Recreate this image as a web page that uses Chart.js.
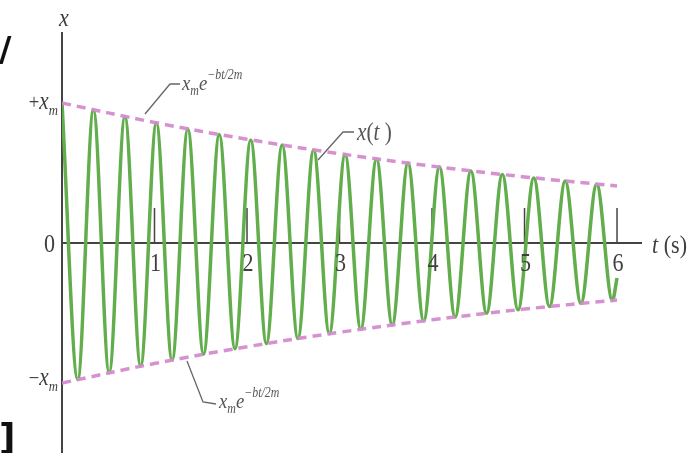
<!DOCTYPE html>
<html>
<head>
<meta charset="utf-8">
<script src="https://cdn.jsdelivr.net/npm/chart.js@4.4.1/dist/chart.umd.min.js"></script>
<style>
  html, body { margin: 0; padding: 0; background: #fff; }
  #wrap { width: 700px; height: 453px; }
</style>
</head>
<body>
<div id="wrap"><canvas id="dampedChart" width="700" height="453"></canvas></div>
<script>
// crests and troughs of x(t), in units of x_m (t in s)
const swingTimes = [0, 0.17, 0.34, 0.51, 0.68, 0.85, 1.02, 1.19, 1.36, 1.53, 1.70, 1.87,
                    2.04, 2.21, 2.38, 2.55, 2.72, 2.89, 3.06, 3.23, 3.40, 3.57, 3.74, 3.91,
                    4.08, 4.25, 4.42, 4.59, 4.76, 4.93, 5.10, 5.27, 5.44, 5.61, 5.78, 5.95, 6.00];
const swingValues = [1.000, -0.975, 0.950, -0.926, 0.903, -0.880, 0.858, -0.837, 0.815, -0.795, 0.775, -0.755,
                     0.736, -0.718, 0.700, -0.682, 0.665, -0.648, 0.632, -0.616, 0.600, -0.585, 0.571, -0.556,
                     0.542, -0.529, 0.515, -0.502, 0.490, -0.477, 0.465, -0.454, 0.442, -0.431, 0.420, -0.410, -0.250];

// envelope  ±x_m e^{-bt/2m}
const envelopeTimes = [0, 1, 2, 3, 4, 5, 6];
const envelopeUpper = [1.000, 0.861, 0.741, 0.638, 0.549, 0.472, 0.407];
const envelopeLower = [-1.000, -0.861, -0.741, -0.638, -0.549, -0.472, -0.407];

// time axis ticks
const timeTicks = [1, 2, 3, 4, 5, 6];
const tickLabels = ['1', '2', '3', '4', '5', '6'];

const GREEN = '#62ad4c';
const PINK = 'rgba(212, 140, 206, 0.95)';
const AXIS = '#444';
const INK = '#3f3f3f';
const SQUASH = 0.85;

const toPoints = (xs, ys) => xs.map((x, i) => ({ x: x, y: ys[i] }));

// draws a run of serif pieces: [text, size, dy, italic]
function mathText(ctx, x, y, parts, align) {
    let total = 0;
    parts.forEach(([s, size, dy, it]) => {
        ctx.font = `${it ? 'italic ' : ''}${size}px "Liberation Serif"`;
        total += ctx.measureText(s).width * SQUASH;
    });
    let cx = align === 'right' ? x - total : align === 'center' ? x - total / 2 : x;
    parts.forEach(([s, size, dy, it]) => {
        ctx.font = `${it ? 'italic ' : ''}${size}px "Liberation Serif"`;
        ctx.save();
        ctx.translate(cx, y + dy);
        ctx.scale(SQUASH, 1);
        ctx.fillText(s, 0, 0);
        ctx.restore();
        cx += ctx.measureText(s).width * SQUASH;
    });
}

function leader(ctx, pts) {
    ctx.beginPath();
    ctx.moveTo(pts[0][0], pts[0][1]);
    pts.slice(1).forEach(p => ctx.lineTo(p[0], p[1]));
    ctx.stroke();
}

const axesPlugin = {
    id: 'axesPlugin',
    beforeDatasetsDraw(chart) {
        const { ctx, scales: { x, y } } = chart;
        const x0 = x.getPixelForValue(0);
        const y0 = y.getPixelForValue(0);
        ctx.save();
        ctx.strokeStyle = AXIS;
        ctx.lineWidth = 2;
        ctx.beginPath();
        ctx.moveTo(x0, chart.chartArea.top);
        ctx.lineTo(x0, chart.height);
        ctx.moveTo(x0, y0);
        ctx.lineTo(chart.chartArea.right, y0);
        ctx.stroke();

        // tick marks rise above the time axis
        ctx.lineWidth = 1.5;
        timeTicks.forEach(t => {
            const px = x.getPixelForValue(t);
            ctx.beginPath();
            ctx.moveTo(px, y0 - 35);
            ctx.lineTo(px, y0);
            ctx.stroke();
        });
        ctx.restore();
    },
    afterDatasetsDraw(chart) {
        const { ctx, scales: { x, y } } = chart;
        const x0 = x.getPixelForValue(0);
        const y0 = y.getPixelForValue(0);
        ctx.save();
        ctx.fillStyle = INK;
        ctx.textBaseline = 'alphabetic';

        timeTicks.forEach((t, i) => {
            mathText(ctx, x.getPixelForValue(t) + 1, y0 + 28, [[tickLabels[i], 26, 0, false]], 'center');
        });
        mathText(ctx, x0 - 7, y0 + 9, [['0', 26, 0, false]], 'right');
        mathText(ctx, x0 - 4, y.getPixelForValue(1) + 6, [['+', 22, 0, false], ['x', 25, 0, true], ['m', 15, 6, true]], 'right');
        mathText(ctx, x0 - 4, y.getPixelForValue(-1) + 2, [['\u2212', 22, 0, false], ['x', 25, 0, true], ['m', 15, 6, true]], 'right');
        mathText(ctx, x0 + 2, 26, [['x', 26, 0, true]], 'center');
        mathText(ctx, chart.chartArea.right + 10, y0 + 10, [['t', 26, 0, true], [' (s)', 26, 0, false]]);

        // envelope and curve callouts
        ctx.fillStyle = '#555';
        ctx.strokeStyle = '#666';
        ctx.lineWidth = 1.3;
        leader(ctx, [[145, 114], [170, 84], [180, 84]]);
        mathText(ctx, 182, 90, [['x', 22, 0, true], ['m', 14, 5, true], ['e', 22, 0, true], ['\u2212bt/2m', 14, -11, true]]);

        leader(ctx, [[187, 361], [203, 402], [216, 404]]);
        mathText(ctx, 219, 408, [['x', 22, 0, true], ['m', 14, 5, true], ['e', 22, 0, true], ['\u2212bt/2m', 14, -11, true]]);

        leader(ctx, [[318, 160], [343, 132], [354, 132]]);
        mathText(ctx, 357, 140, [['x', 25, 0, true], ['(', 25, 0, false], ['t', 25, 0, true], [' )', 25, 0, false]]);

        // cut-off glyphs along the left edge
        ctx.fillStyle = '#111';
        ctx.font = 'bold 34px "DejaVu Sans"';
        ctx.fillText('/', -1, 61);
        ctx.font = 'bold 36px "DejaVu Sans"';
        ctx.fillText(']', -1, 449);
        ctx.restore();
    }
};

const ctx = document.getElementById('dampedChart').getContext('2d');
new Chart(ctx, {
    type: 'scatter',
    data: {
        datasets: [
            {
                label: 'upper envelope',
                data: toPoints(envelopeTimes, envelopeUpper),
                showLine: true,
                borderColor: PINK,
                borderWidth: 3.5,
                borderDash: [9, 6],
                pointRadius: 0,
                tension: 0.4,
                order: 0
            },
            {
                label: 'lower envelope',
                data: toPoints(envelopeTimes, envelopeLower),
                showLine: true,
                borderColor: PINK,
                borderWidth: 3.5,
                borderDash: [9, 6],
                pointRadius: 0,
                tension: 0.4,
                order: 0
            },
            {
                label: 'x(t)',
                data: toPoints(swingTimes, swingValues),
                showLine: true,
                borderColor: GREEN,
                borderWidth: 3.5,
                pointRadius: 0,
                cubicInterpolationMode: 'monotone',
                order: 1
            }
        ]
    },
    options: {
        responsive: false,
        animation: false,
        devicePixelRatio: 1,
        layout: { padding: { left: 62, right: 58, top: 32, bottom: 0 } },
        scales: {
            x: { type: 'linear', min: 0, max: 6.27, display: false },
            y: { type: 'linear', min: -1.5, max: 1.507, display: false }
        },
        plugins: {
            legend: { display: false },
            tooltip: { enabled: false }
        }
    },
    plugins: [axesPlugin]
});
</script>
</body>
</html>
